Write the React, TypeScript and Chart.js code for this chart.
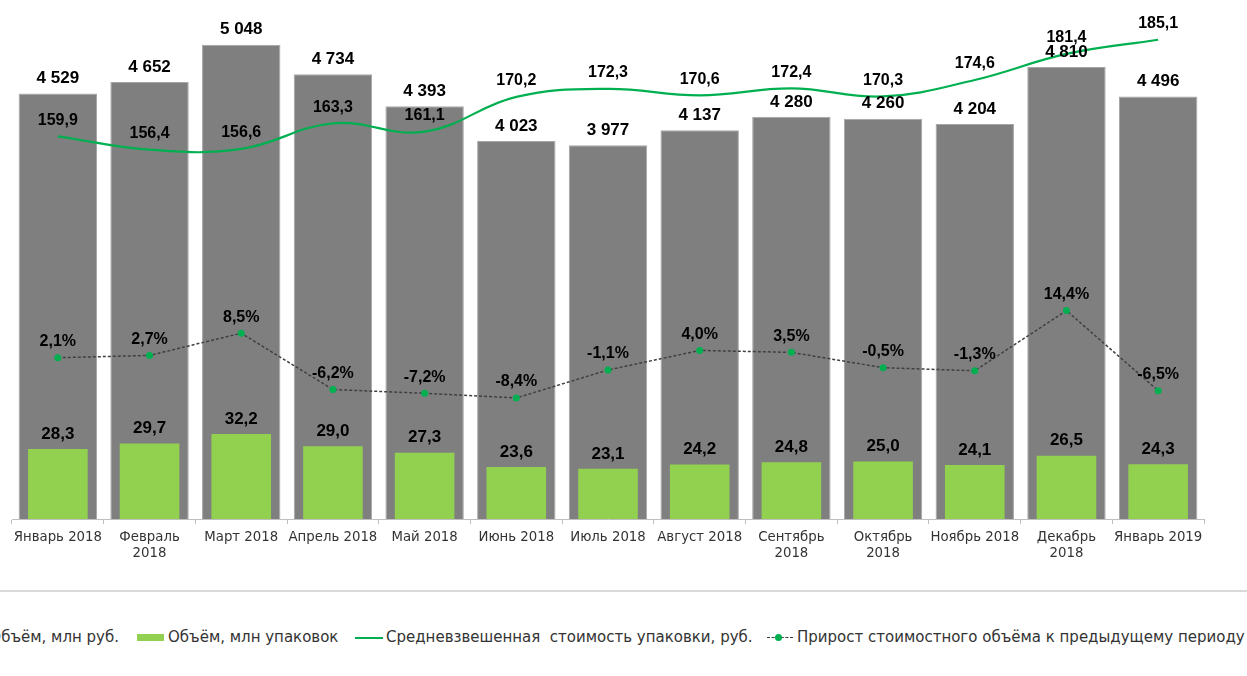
import React, { useEffect, useRef } from 'react';
import { Chart, registerables } from 'chart.js';

Chart.register(...registerables);

const categories: (string | string[])[] = [
  'Январь 2018',
  ['Февраль', '2018'],
  'Март 2018',
  'Апрель 2018',
  'Май 2018',
  'Июнь 2018',
  'Июль 2018',
  'Август 2018',
  ['Сентябрь', '2018'],
  ['Октябрь', '2018'],
  'Ноябрь 2018',
  ['Декабрь', '2018'],
  'Январь 2019',
];

const volumeRub = [4529, 4652, 5048, 4734, 4393, 4023, 3977, 4137, 4280, 4260, 4204, 4810, 4496];
const volumePacks = [28.3, 29.7, 32.2, 29.0, 27.3, 23.6, 23.1, 24.2, 24.8, 25.0, 24.1, 26.5, 24.3];
const avgPrice = [159.9, 156.4, 156.6, 163.3, 161.1, 170.2, 172.3, 170.6, 172.4, 170.3, 174.6, 181.4, 185.1];
const growthPct = [2.1, 2.7, 8.5, -6.2, -7.2, -8.4, -1.1, 4.0, 3.5, -0.5, -1.3, 14.4, -6.5];

const legendLabels = [
  'Объём, млн руб.',
  'Объём, млн упаковок',
  'Средневзвешенная  стоимость упаковки, руб.',
  'Прирост стоимостного объёма к предыдущему периоду',
];

const fmtThousands = (v: number) => String(v).replace(/\B(?=(\d{3})+(?!\d))/g, ' ');
const fmt1 = (v: number) => v.toFixed(1).replace('.', ',');
const fmtPct = (v: number) => fmt1(v) + '%';

const labelFormats = [fmtThousands, fmt1, fmt1, fmtPct];
const labelOffsets = [15, 15, 16, 16];
const labelSizes = [17, 17, 16, 16];

const valueLabelPlugin = {
  id: 'valueLabels',
  afterDatasetsDraw(chart: any) {
    const ctx = chart.ctx;
    ctx.save();
    ctx.fillStyle = '#000000';
    ctx.textAlign = 'center';
    ctx.textBaseline = 'middle';
    chart.data.datasets.forEach((ds: any, i: number) => {
      const meta = chart.getDatasetMeta(i);
      ctx.font = `bold ${labelSizes[i]}px "Liberation Sans", Arial, sans-serif`;
      meta.data.forEach((el: any, j: number) => {
        const v = ds.data[j] as number;
        ctx.fillText(labelFormats[i](v), el.x, el.y - labelOffsets[i]);
      });
    });
    ctx.restore();
  },
};

export default function App() {
  const canvasRef = useRef<HTMLCanvasElement | null>(null);

  useEffect(() => {
    if (!canvasRef.current) return;
    const chart = new Chart(canvasRef.current, {
      type: 'bar',
      data: {
        labels: categories as any,
        datasets: [
          {
            type: 'bar',
            label: legendLabels[0],
            data: volumeRub,
            yAxisID: 'yRub',
            backgroundColor: '#7f7f7f',
            borderColor: '#a6a6a6',
            borderWidth: 1,
            grouped: false,
            barPercentage: 0.855,
            categoryPercentage: 1,
            order: 4,
          } as any,
          {
            type: 'bar',
            label: legendLabels[1],
            data: volumePacks,
            yAxisID: 'yPack',
            backgroundColor: '#92d050',
            borderWidth: 0,
            grouped: false,
            barPercentage: 0.65,
            categoryPercentage: 1,
            order: 3,
          } as any,
          {
            type: 'line',
            label: legendLabels[2],
            data: avgPrice,
            yAxisID: 'yPrice',
            borderColor: '#00b050',
            borderWidth: 2.2,
            pointRadius: 0,
            tension: 0.4,
            order: 2,
          } as any,
          {
            type: 'line',
            label: legendLabels[3],
            data: growthPct,
            yAxisID: 'yPct',
            borderColor: '#404040',
            borderWidth: 1.5,
            borderDash: [3, 2],
            pointRadius: 3.5,
            pointBackgroundColor: '#00b050',
            pointBorderWidth: 0,
            tension: 0,
            order: 1,
          } as any,
        ],
      },
      options: {
        responsive: false,
        animation: false,
        layout: { padding: { left: 12, right: 43, top: 21, bottom: 0 } },
        plugins: { legend: { display: false }, tooltip: { enabled: false } },
        scales: {
          x: {
            offset: true,
            grid: {
              offset: true,
              drawOnChartArea: false,
              drawTicks: true,
              tickLength: 5,
              tickColor: '#bfbfbf',
            },
            border: { display: true, color: '#bfbfbf', width: 1 },
            ticks: {
              color: '#333333',
              font: { family: '"DejaVu Sans", Verdana, sans-serif', size: 13.3 },
              padding: 6,
              maxRotation: 0,
              autoSkip: false,
            },
            afterFit: (s: any) => {
              s.height = 50;
            },
          },
          yRub: { display: false, min: 0, max: 5300 },
          yPack: { display: false, min: 10, max: 140 },
          yPrice: { display: false, min: 60, max: 190 },
          yPct: { display: false, min: -40, max: 90 },
        },
      } as any,
      plugins: [valueLabelPlugin],
    });
    return () => chart.destroy();
  }, []);

  const textStyle: React.CSSProperties = {
    position: 'absolute',
    top: 628,
    lineHeight: '18px',
    whiteSpace: 'pre',
    font: '15px "DejaVu Sans", Verdana, sans-serif',
    color: '#333333',
  };

  return (
    <div
      style={{
        position: 'fixed',
        left: 0,
        top: 0,
        width: 1247,
        height: 676,
        overflow: 'hidden',
        background: '#ffffff',
      }}
    >
      <canvas ref={canvasRef} width={1247} height={569} style={{ position: 'absolute', left: 0, top: 0 }} />
      <div style={{ position: 'absolute', left: 0, top: 590, width: 1247, height: 2, background: '#d9d9d9' }} />
      <div style={{ position: 'absolute', left: -44, top: 634, width: 27, height: 7, background: '#7f7f7f' }} />
      <span style={{ ...textStyle, right: 1247 - 119 }}>{legendLabels[0]}</span>
      <div style={{ position: 'absolute', left: 137, top: 634, width: 27, height: 7, background: '#92d050' }} />
      <span style={{ ...textStyle, left: 168 }}>{legendLabels[1]}</span>
      <div style={{ position: 'absolute', left: 355, top: 637, width: 28, height: 2, background: '#00b050' }} />
      <span style={{ ...textStyle, left: 386 }}>{legendLabels[2]}</span>
      <div
        style={{
          position: 'absolute',
          left: 767,
          top: 637,
          width: 26,
          height: 0,
          borderTop: '1px dashed #3a3a3a',
        }}
      />
      <div
        style={{
          position: 'absolute',
          left: 775,
          top: 634,
          width: 7,
          height: 7,
          borderRadius: '50%',
          background: '#00b050',
        }}
      />
      <span style={{ ...textStyle, left: 797 }}>{legendLabels[3]}</span>
    </div>
  );
}
